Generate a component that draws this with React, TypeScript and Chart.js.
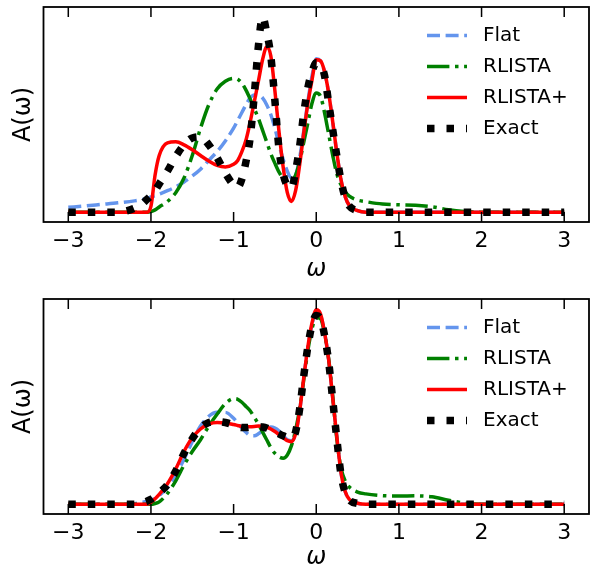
import React, { useEffect, useRef } from 'react';
import { Chart, registerables } from 'chart.js';

Chart.register(...registerables);

// frequency grid (omega)
const omega = [
  -3, -2.8, -2.6, -2.4, -2.2, -2.1, -2.05, -2.0, -1.95, -1.9,
  -1.8, -1.7, -1.6, -1.5, -1.4, -1.3, -1.2, -1.1, -1.0, -0.95,
  -0.9, -0.85, -0.8, -0.75, -0.7, -0.65, -0.6, -0.55, -0.5, -0.45,
  -0.4, -0.35, -0.3, -0.25, -0.2, -0.15, -0.1, -0.05, 0, 0.05,
  0.1, 0.15, 0.2, 0.25, 0.3, 0.35, 0.4, 0.5, 0.6, 0.8,
  1.0, 1.2, 1.4, 1.6, 1.8, 2.0, 2.4, 2.8, 3.0,
];

const xTickValues = [-3, -2, -1, 0, 1, 2, 3];
const seriesLabels = ['Flat', 'RLISTA', 'RLISTA+', 'Exact'];
const axisXTitle = 'ω';
const axisYTitle = 'A(ω)';

// ---- top panel ----
const flatTop = [
  0.025, 0.032, 0.040, 0.048, 0.058, 0.065, 0.070, 0.078, 0.085, 0.093,
  0.110, 0.130, 0.155, 0.185, 0.220, 0.265, 0.310, 0.365, 0.430, 0.470,
  0.510, 0.550, 0.585, 0.600, 0.600, 0.585, 0.550, 0.500, 0.430, 0.345,
  0.270, 0.210, 0.175, 0.190, 0.280, 0.420, 0.570, 0.700, 0.785, 0.775,
  0.720, 0.610, 0.460, 0.300, 0.165, 0.080, 0.035, 0.008, 0, 0,
  0, 0, 0, 0, 0, 0, 0, 0, 0,
];
const rlistaTop = [
  0, 0, 0, 0, 0, 0, 0, 0.003, 0.012, 0.027,
  0.055, 0.100, 0.175, 0.290, 0.430, 0.550, 0.630, 0.670, 0.685, 0.680,
  0.660, 0.625, 0.580, 0.530, 0.480, 0.420, 0.360, 0.300, 0.250, 0.205,
  0.172, 0.157, 0.160, 0.190, 0.260, 0.360, 0.460, 0.560, 0.610, 0.595,
  0.510, 0.400, 0.290, 0.195, 0.140, 0.105, 0.082, 0.062, 0.054, 0.042,
  0.038, 0.036, 0.028, 0.013, 0.004, 0, 0, 0, 0,
];
const rlistaPlusTop = [
  0, 0, 0, 0, 0, 0, 0, 0.030, 0.190, 0.290,
  0.355, 0.360, 0.345, 0.320, 0.290, 0.262, 0.240, 0.232, 0.245, 0.265,
  0.310, 0.370, 0.460, 0.565, 0.670, 0.780, 0.845, 0.800, 0.620, 0.410,
  0.230, 0.100, 0.055, 0.110, 0.245, 0.410, 0.560, 0.680, 0.780, 0.775,
  0.720, 0.610, 0.460, 0.300, 0.165, 0.080, 0.035, 0.008, 0, 0,
  0, 0, 0, 0, 0, 0, 0, 0, 0,
];
const exactTop = [
  0, 0, 0, 0, 0.020, 0.045, 0.065, 0.085, 0.110, 0.145,
  0.210, 0.285, 0.345, 0.380, 0.385, 0.345, 0.280, 0.200, 0.140, 0.128,
  0.170, 0.260, 0.380, 0.600, 0.850, 1.000, 0.920, 0.800, 0.570, 0.320,
  0.195, 0.135, 0.125, 0.210, 0.340, 0.510, 0.640, 0.720, 0.765, 0.755,
  0.700, 0.560, 0.420, 0.285, 0.160, 0.075, 0.032, 0.007, 0, 0,
  0, 0, 0, 0, 0, 0, 0, 0, 0,
];

// ---- bottom panel ----
const flatBottom = [
  0, 0, 0, 0, 0.003, 0.010, 0.015, 0.022, 0.030, 0.045,
  0.085, 0.150, 0.230, 0.320, 0.400, 0.450, 0.470, 0.470, 0.440, 0.415,
  0.390, 0.368, 0.352, 0.350, 0.360, 0.375, 0.390, 0.395, 0.390, 0.375,
  0.350, 0.330, 0.325, 0.360, 0.480, 0.650, 0.810, 0.920, 0.985, 0.970,
  0.880, 0.740, 0.540, 0.340, 0.160, 0.065, 0.025, 0.005, 0, 0,
  0, 0, 0, 0, 0, 0, 0, 0, 0,
];
const rlistaBottom = [
  0, 0, 0, 0, 0, 0, 0, 0, 0.004, 0.012,
  0.055, 0.120, 0.200, 0.270, 0.330, 0.400, 0.460, 0.515, 0.540, 0.537,
  0.522, 0.500, 0.478, 0.445, 0.410, 0.370, 0.330, 0.290, 0.260, 0.242,
  0.235, 0.252, 0.300, 0.380, 0.490, 0.640, 0.790, 0.900, 0.955, 0.950,
  0.875, 0.745, 0.550, 0.330, 0.185, 0.120, 0.088, 0.062, 0.053, 0.044,
  0.042, 0.043, 0.038, 0.020, 0.006, 0, 0, 0, 0,
];
const rlistaPlusBottom = [
  0, 0, 0, 0, 0, 0, 0, 0.010, 0.028, 0.050,
  0.105, 0.180, 0.270, 0.340, 0.385, 0.410, 0.418, 0.416, 0.408, 0.403,
  0.398, 0.397, 0.397, 0.398, 0.400, 0.399, 0.395, 0.385, 0.372, 0.356,
  0.340, 0.325, 0.320, 0.360, 0.480, 0.650, 0.810, 0.930, 0.995, 0.975,
  0.880, 0.740, 0.540, 0.340, 0.160, 0.065, 0.025, 0.005, 0, 0,
  0, 0, 0, 0, 0, 0, 0, 0, 0,
];
const exactBottom = [
  0, 0, 0, 0, 0, 0.008, 0.015, 0.025, 0.040, 0.058,
  0.100, 0.170, 0.260, 0.335, 0.390, 0.418, 0.423, 0.418, 0.405, 0.397,
  0.392, 0.392, 0.394, 0.396, 0.397, 0.395, 0.390, 0.380, 0.370, 0.360,
  0.350, 0.342, 0.338, 0.370, 0.490, 0.660, 0.810, 0.920, 0.965, 0.950,
  0.865, 0.730, 0.530, 0.330, 0.150, 0.060, 0.022, 0.004, 0, 0,
  0, 0, 0, 0, 0, 0, 0, 0, 0,
];

const FONT = "'DejaVu Sans', sans-serif";

const seriesStyles = [
  { color: '#6495ED', width: 3.5, dash: [13, 5.6], order: 4 },
  { color: '#008000', width: 3.5, dash: [22.4, 5.6, 3.5, 5.6], order: 3 },
  { color: '#FF0000', width: 3.5, dash: [] as number[], order: 2 },
  { color: '#000000', width: 7.5, dash: [7.5, 12], order: 1 },
];

const fmtTick = (v: number) => (v < 0 ? '\u2212' + Math.abs(v) : String(v));

const frameTicksPlugin = {
  id: 'frameTicks',
  afterDatasetsDraw(chart: any) {
    const { ctx, chartArea: a, scales } = chart;
    const xs = scales.x;
    ctx.save();
    ctx.setLineDash([]);
    ctx.strokeStyle = '#000';
    ctx.lineWidth = 1.5;
    xs.ticks.forEach((t: any) => {
      const px = xs.getPixelForValue(t.value);
      ctx.beginPath();
      ctx.moveTo(px, a.bottom);
      ctx.lineTo(px, a.bottom - 10);
      ctx.moveTo(px, a.top);
      ctx.lineTo(px, a.top + 10);
      ctx.stroke();
    });
    ctx.lineWidth = 1.8;
    ctx.strokeRect(a.left, a.top, a.right - a.left, a.bottom - a.top);
    ctx.restore();
  },
};

const legendPlugin = {
  id: 'insideLegend',
  afterDraw(chart: any) {
    const { ctx, chartArea: a } = chart;
    ctx.save();
    chart.data.datasets.forEach((ds: any, i: number) => {
      const y = a.top + 28.5 + i * 31;
      const x0 = a.right - 162;
      const x1 = a.right - 122;
      ctx.beginPath();
      ctx.strokeStyle = ds.borderColor;
      ctx.lineWidth = ds.borderWidth;
      ctx.lineCap = 'butt';
      ctx.setLineDash(ds.borderDash || []);
      ctx.moveTo(x0, y);
      ctx.lineTo(x1, y);
      ctx.stroke();
      ctx.setLineDash([]);
      ctx.fillStyle = '#000';
      ctx.font = `20px ${FONT}`;
      ctx.textBaseline = 'middle';
      ctx.textAlign = 'left';
      ctx.fillText(ds.label, a.right - 106, y);
    });
    ctx.restore();
  },
};

function Panel({ series, padTop, xHeight, titlePad }: { series: number[][]; padTop: number; xHeight: number; titlePad: number }) {
  const ref = useRef<HTMLCanvasElement | null>(null);
  useEffect(() => {
    if (!ref.current) return;
    const chart = new Chart(ref.current, {
      type: 'line',
      data: {
        datasets: series.map((vals, i) => ({
          label: seriesLabels[i],
          data: omega.map((w, k) => ({ x: w, y: vals[k] })),
          borderColor: seriesStyles[i].color,
          borderWidth: seriesStyles[i].width,
          borderDash: seriesStyles[i].dash,
          borderCapStyle: 'butt',
          order: seriesStyles[i].order,
          pointRadius: 0,
          fill: false,
          cubicInterpolationMode: 'monotone',
        })),
      },
      options: {
        animation: false,
        responsive: false,
        devicePixelRatio: 1,
        layout: { padding: { top: padTop, right: 1, left: 0, bottom: 0 } },
        plugins: { legend: { display: false }, tooltip: { enabled: false } },
        scales: {
          x: {
            type: 'linear',
            min: -3.3,
            max: 3.3,
            afterBuildTicks: (s: any) => {
              s.ticks = xTickValues.map((v) => ({ value: v }));
            },
            afterFit: (s: any) => {
              s.height = xHeight;
            },
            grid: { display: false, drawTicks: false },
            border: { display: false },
            ticks: {
              color: '#000',
              font: { family: FONT, size: 22 },
              padding: 6,
              maxRotation: 0,
              autoSkip: false,
              callback: (v: any) => fmtTick(Number(v)),
            },
            title: {
              display: true,
              text: axisXTitle,
              color: '#000',
              font: { family: FONT, size: 24, style: 'italic' },
              padding: { top: 0, bottom: titlePad },
            },
          },
          y: {
            min: -0.05,
            max: 1.05,
            afterFit: (s: any) => {
              s.width = 43.5;
            },
            grid: { display: false, drawTicks: false },
            border: { display: false },
            ticks: { display: false },
            title: {
              display: true,
              text: axisYTitle,
              color: '#000',
              font: { family: FONT, size: 24 },
              padding: { top: 9, bottom: 0 },
            },
          },
        },
      },
      plugins: [frameTicksPlugin, legendPlugin],
    } as any);
    return () => chart.destroy();
  }, []);
  return <canvas ref={ref} width={590} height={286} style={{ display: 'block', width: 590, height: 286 }} />;
}

export default function App() {
  return (
    <div style={{ position: 'absolute', left: 0, top: 0, width: 590, height: 572, background: '#fff' }}>
      <Panel series={[flatTop, rlistaTop, rlistaPlusTop, exactTop]} padTop={7} xHeight={64} titlePad={2} />
      <Panel series={[flatBottom, rlistaBottom, rlistaPlusBottom, exactBottom]} padTop={13} xHeight={58} titlePad={0} />
    </div>
  );
}
